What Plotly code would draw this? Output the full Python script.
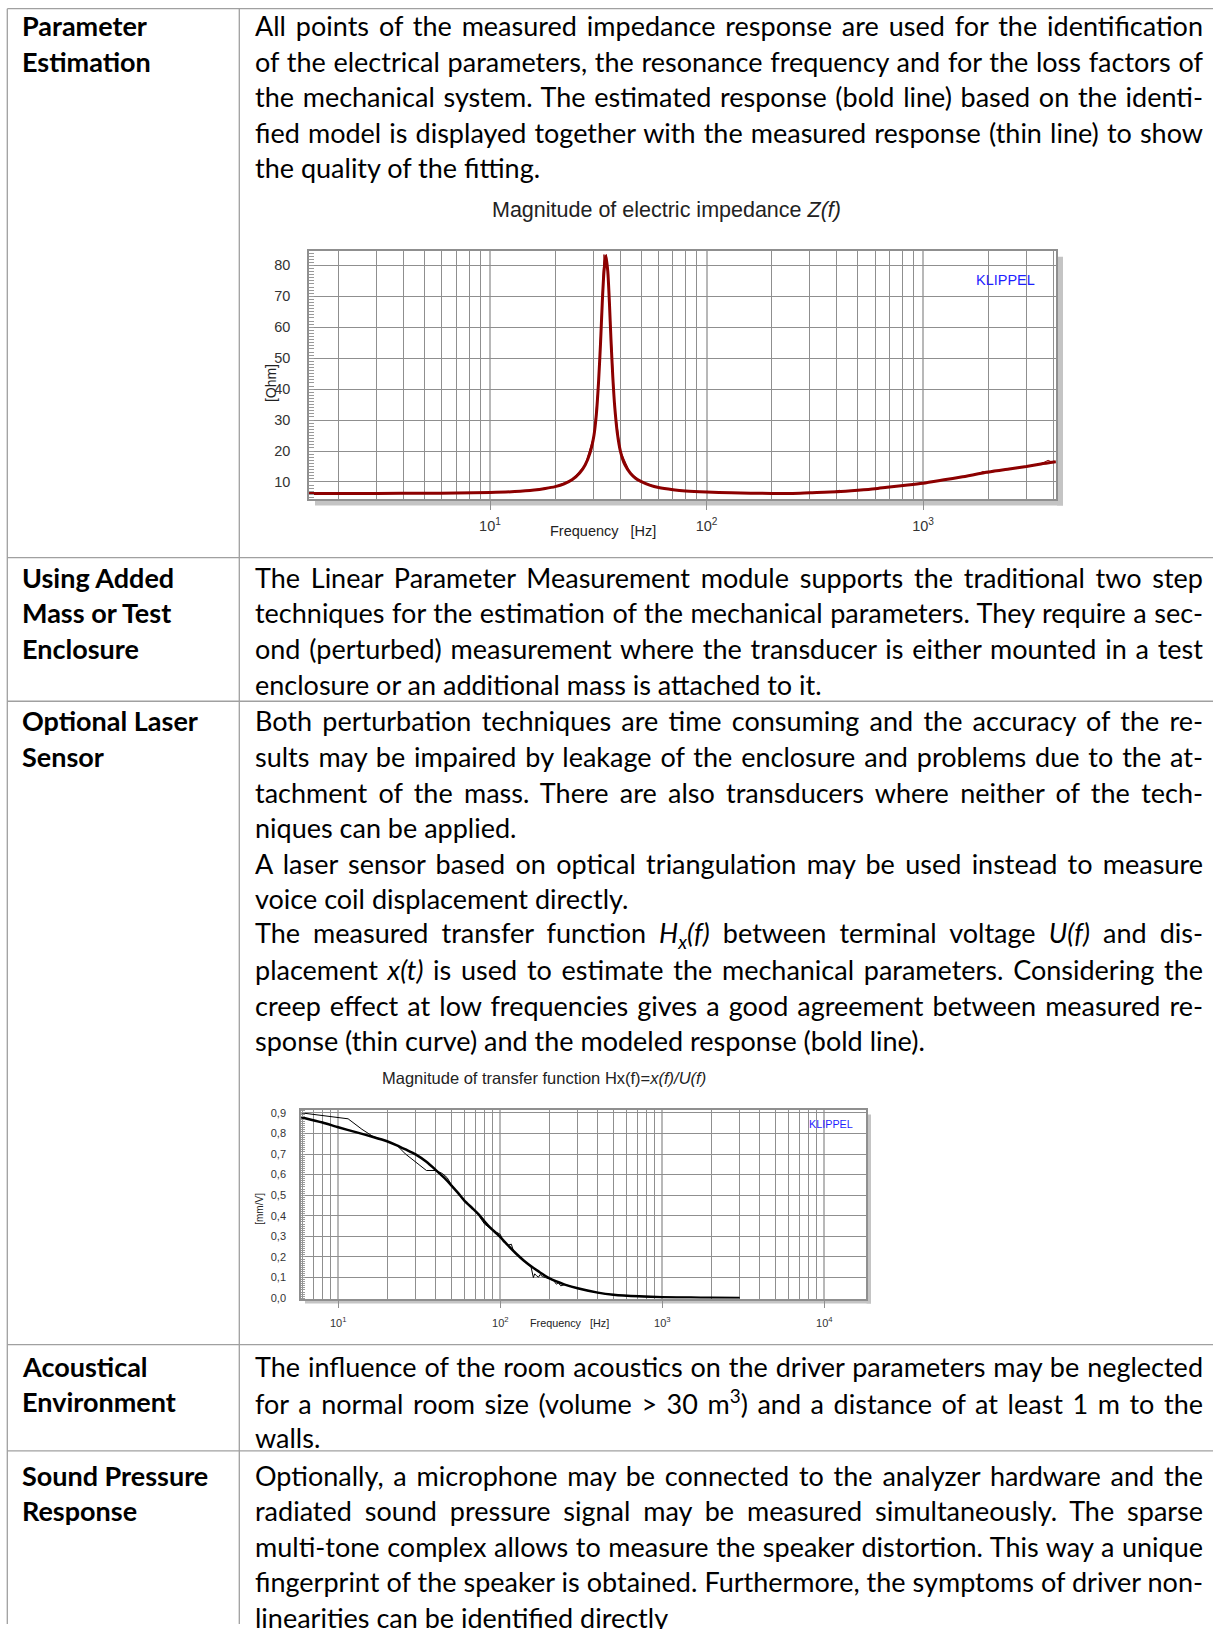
import json
import plotly.graph_objects as go

W, H = 1213, 1629

# ---------------- data: impedance chart ----------------
imp_freq = [1.46, 2, 3, 5, 7, 10, 13, 16, 18, 20, 22, 24, 26, 27.5, 29, 30.2, 31, 31.7, 32.4, 33, 33.6,
            34.3, 35, 35.6, 36.2, 36.9, 37.7, 38.7, 40, 42, 44.5, 47, 50, 55, 60, 70, 80, 100, 130, 160,
            200, 250, 300, 400, 500, 600, 700, 850, 1000, 1250, 1500, 2000, 2500, 3000, 3500, 4100]
imp_model = [6.3, 6.3, 6.3, 6.35, 6.45, 6.6, 6.9, 7.4, 7.9, 8.5, 9.4, 10.8, 13.0, 15.5, 19.5, 25, 32, 42, 55, 68, 78,
             83, 78, 68, 56, 44, 34, 26, 20, 15.5, 12.8, 11.2, 10.1, 8.9, 8.2, 7.5, 7.1, 6.75, 6.5, 6.35,
             6.3, 6.3, 6.5, 6.8, 7.3, 7.8, 8.4, 9.0, 9.6, 10.7, 11.6, 13.2, 14.2, 15.0, 15.8, 16.5]
imp_meas_freq = [1.46, 3, 6, 10, 15, 20, 24, 27.5, 30.2, 31.7, 33, 33.6, 34.0, 34.5, 35, 36.2, 37.7, 40, 44.5,
                 50, 60, 80, 120, 200, 300, 380, 410, 440, 600, 800, 1000, 1500, 1800, 1890, 1980, 2500,
                 3000, 3500, 3780, 3950, 4100]
imp_meas = [6.3, 6.3, 6.4, 6.6, 7.2, 8.5, 10.8, 15.5, 25, 42, 68, 83.5, 81, 83.5, 78, 56, 34, 20, 12.8,
            10.1, 8.2, 7.1, 6.55, 6.3, 6.5, 6.7, 7.3, 6.9, 7.8, 8.9, 9.6, 11.6, 12.6, 13.4, 12.9, 14.2,
            15.0, 15.8, 17.0, 16.4, 16.5]
imp_yticks = [10, 20, 30, 40, 50, 60, 70, 80]
imp_xticks = [10, 100, 1000]
imp_xticklabels = ["10<sup>1</sup>", "10<sup>2</sup>", "10<sup>3</sup>"]

# ---------------- data: transfer function chart ----------------
hx_freq = [5.9, 8, 10, 13, 16.4, 20, 23, 26, 30, 35, 40, 45, 50, 55, 60, 67, 74, 80, 86, 93, 100, 112, 125,
           140, 158, 180, 200, 250, 300, 400, 500, 720, 1000, 1500, 2000, 3000]
hx_model = [0.879, 0.853, 0.830, 0.805, 0.783, 0.762, 0.742, 0.722, 0.698, 0.662, 0.622, 0.585, 0.547, 0.510,
            0.474, 0.438, 0.405, 0.372, 0.345, 0.320, 0.297, 0.255, 0.217, 0.182, 0.150, 0.120, 0.097, 0.066,
            0.048, 0.027, 0.017, 0.009, 0.005, 0.003, 0.002, 0.001]
hx_meas_freq = [5.9, 11.5, 14, 16.4, 20, 23, 26, 30, 35, 40, 44, 47, 50, 60, 70, 80, 88, 95, 100, 104, 108,
                112, 117, 121, 125, 140, 155, 160, 163, 167, 172, 176, 182, 190, 200, 212, 222, 228, 236,
                250, 300, 400, 500, 700, 1000, 2000, 3000]
hx_meas = [0.900, 0.871, 0.820, 0.785, 0.762, 0.742, 0.700, 0.662, 0.620, 0.620, 0.605, 0.585, 0.550, 0.470,
           0.425, 0.360, 0.335, 0.320, 0.310, 0.275, 0.268, 0.258, 0.262, 0.225, 0.214, 0.180, 0.150, 0.100,
           0.118, 0.110, 0.102, 0.115, 0.105, 0.100, 0.096, 0.088, 0.068, 0.075, 0.060, 0.066, 0.048, 0.026,
           0.016, 0.008, 0.005, 0.002, 0.001]
hx_yticks = [0.0, 0.1, 0.2, 0.3, 0.4, 0.5, 0.6, 0.7, 0.8, 0.9]
hx_yticklabels = ["0,0", "0,1", "0,2", "0,3", "0,4", "0,5", "0,6", "0,7", "0,8", "0,9"]
hx_xticks = [10, 100, 1000, 10000]
hx_xticklabels = ["10<sup>1</sup>", "10<sup>2</sup>", "10<sup>3</sup>", "10<sup>4</sup>"]

# ---------------- table text ----------------
row_heads = [
    ["Parameter", "Estimation"],
    ["Using Added", "Mass or Test", "Enclosure"],
    ["Optional Laser", "Sensor"],
    ["Acoustical", "Environment"],
    ["Sound Pressure", "Response"],
]
row_body = [
    ["All points of the measured impedance response are used for the identification",
     "of the electrical parameters, the resonance frequency and for the loss factors of",
     "the mechanical system. The estimated response (bold line) based on the identi-",
     "fied model is displayed together with the measured response (thin line) to show",
     "the quality of the fitting."],
    ["The Linear Parameter Measurement module supports the traditional two step",
     "techniques for the estimation of the mechanical parameters. They require a sec-",
     "ond (perturbed) measurement where the transducer is either mounted in a test",
     "enclosure or an additional mass is attached to it."],
    ["Both perturbation techniques are time consuming and the accuracy of the re-",
     "sults may be impaired by leakage of the enclosure and problems due to the at-",
     "tachment of the mass. There are also transducers where neither of the tech-",
     "niques can be applied.",
     "A laser sensor based on optical triangulation may be used instead to measure",
     "voice coil displacement directly.",
     "The measured transfer function <i>H<sub>x</sub>(f)</i> between terminal voltage <i>U(f)</i> and dis-",
     "placement <i>x(t)</i> is used to estimate the mechanical parameters. Considering the",
     "creep effect at low frequencies gives a good agreement between measured re-",
     "sponse (thin curve) and the modeled response (bold line)."],
    ["The influence of the room acoustics on the driver parameters may be neglected",
     "for a normal room size (volume &gt; 30 m<sup>3</sup>) and a distance of at least 1 m to the",
     "walls."],
    ["Optionally, a microphone may be connected to the analyzer hardware and the",
     "radiated sound pressure signal may be measured simultaneously. The sparse",
     "multi-tone complex allows to measure the speaker distortion. This way a unique",
     "fingerprint of the speaker is obtained. Furthermore, the symptoms of driver non-",
     "linearities can be identified directly"],
]
# last line of each paragraph (left at natural width)
para_last = [[4], [3], [3, 5, 9], [2], [4]]
row_first_y = [23, 577.3, 721.5, 1370, 1479.5]
LINE = 35.7


def X(p):
    return p / W


def Y(p):
    return 1 - p / H


BODY_FONT = "Lato"
BODY_SIZE = 27
CHART_FONT = "Liberation Sans, Arial"

fig = go.Figure()

fig.add_trace(go.Scatter(x=imp_meas_freq, y=imp_meas, mode="lines", xaxis="x", yaxis="y",
                         line=dict(color="rgb(140,0,0)", width=1), showlegend=False, hoverinfo="skip"))
fig.add_trace(go.Scatter(x=imp_freq, y=imp_model, mode="lines", xaxis="x", yaxis="y",
                         line=dict(color="rgb(140,0,0)", width=3, shape="spline", smoothing=0.6),
                         showlegend=False, hoverinfo="skip"))
fig.add_trace(go.Scatter(x=hx_meas_freq, y=hx_meas, mode="lines", xaxis="x2", yaxis="y2",
                         line=dict(color="black", width=1), showlegend=False, hoverinfo="skip"))
fig.add_trace(go.Scatter(x=hx_freq, y=hx_model, mode="lines", xaxis="x2", yaxis="y2",
                         line=dict(color="black", width=2.5, shape="spline", smoothing=0.6),
                         showlegend=False, hoverinfo="skip"))


def minor_vals(lo, hi):
    out = []
    dec = 1
    while dec <= hi:
        for m in range(2, 10):
            v = m * dec
            if lo < v < hi:
                out.append(v)
        dec *= 10
    return out


GRID = "#8f8f8f"
MAJ = "#b8b8b8"
tickfont1 = dict(family=CHART_FONT, size=14.5, color="#333")
tickfont2 = dict(family=CHART_FONT, size=11, color="#333")

fig.update_layout(
    width=W, height=H, margin=dict(l=0, r=0, t=0, b=0),
    paper_bgcolor="white", plot_bgcolor="white",
    xaxis=dict(type="log", domain=[X(309), X(1056)], range=[0.164, 3.614], anchor="y",
               tickvals=imp_xticks, ticktext=imp_xticklabels, ticks="outside", ticklen=10,
               tickcolor="#8f8f8f", showgrid=True, gridcolor=MAJ, gridwidth=2,
               minor=dict(tickvals=minor_vals(1, 4100), showgrid=True, gridcolor=GRID, gridwidth=1, ticks=""),
               showline=True, mirror=True, linecolor="#8f8f8f", linewidth=1.5, zeroline=False,
               tickfont=tickfont1, ticklabelstandoff=3, fixedrange=True),
    yaxis=dict(domain=[Y(498), Y(249)], range=[4.64, 84.72], anchor="x",
               tickvals=imp_yticks, ticks="", showgrid=True, gridcolor=GRID, gridwidth=1,
               minor=dict(dtick=1, tick0=0, ticks="inside", ticklen=5, tickcolor="#999", showgrid=False),
               showline=True, mirror=True, linecolor="#8f8f8f", linewidth=1.5, zeroline=False,
               tickfont=tickfont1, ticklabelstandoff=14, fixedrange=True),
    xaxis2=dict(type="log", domain=[X(301), X(866)], range=[0.770, 4.257], anchor="y2",
                tickvals=hx_xticks, ticktext=hx_xticklabels, ticks="outside", ticklen=8,
                tickcolor="#8f8f8f", showgrid=True, gridcolor=MAJ, gridwidth=2,
                minor=dict(tickvals=minor_vals(5.9, 18000), showgrid=True, gridcolor=GRID, gridwidth=1, ticks=""),
                showline=True, mirror=True, linecolor="#8f8f8f", linewidth=1.5, zeroline=False,
                tickfont=tickfont2, ticklabelstandoff=5, fixedrange=True),
    yaxis2=dict(domain=[Y(1302), Y(1112)], range=[-0.002, 0.916], anchor="x2",
                tickvals=hx_yticks, ticktext=hx_yticklabels, ticks="", showgrid=True, gridcolor=GRID,
                gridwidth=1,
                minor=dict(dtick=0.01, tick0=0, ticks="inside", ticklen=4, tickcolor="#999", showgrid=False),
                showline=True, mirror=True, linecolor="#8f8f8f", linewidth=1.5, zeroline=False,
                tickfont=tickfont2, ticklabelstandoff=11, fixedrange=True),
)

shapes = []
BORDER = "#a0a0a0"


def hline(y, x0=7.3, x1=W):
    shapes.append(dict(type="line", xref="paper", yref="paper", x0=X(x0), x1=X(x1), y0=Y(y), y1=Y(y),
                       line=dict(color=BORDER, width=1.3), layer="above"))


def vline(x, y0=5.7, y1=H):
    shapes.append(dict(type="line", xref="paper", yref="paper", x0=X(x), x1=X(x), y0=Y(y0), y1=Y(y1),
                       line=dict(color=BORDER, width=1.3), layer="above"))


for yy in [5.7, 557.3, 701.7, 1348.3, 1455]:
    hline(yy)
vline(7.3)
vline(239.3)


def rect(x0, y0, x1, y1, color="#c4c4c4"):
    shapes.append(dict(type="rect", xref="paper", yref="paper", x0=X(x0), x1=X(x1), y0=Y(y1), y1=Y(y0),
                       line=dict(width=0), fillcolor=color, layer="below"))


# chart drop shadows
rect(1057, 255, 1063, 505)
rect(315, 499, 1063, 505)
rect(866.5, 1117, 871, 1307)
rect(305, 1302.5, 871, 1307)

annotations = []
justify = {}


def ann(text, x, y, size, family, color="black", xanchor="left", textangle=0):
    annotations.append(dict(text=text, x=X(x), y=Y(y), xref="paper", yref="paper", showarrow=False,
                            xanchor=xanchor, yanchor="middle", align="left" if xanchor == "left" else "center",
                            textangle=textangle, font=dict(size=size, family=family, color=color)))
    return len(annotations) - 1


for r in range(len(row_heads)):
    y0 = row_first_y[r]
    for i, t in enumerate(row_heads[r]):
        ann("<b>" + t + "</b>", 19.5, y0 + i * LINE, BODY_SIZE, BODY_FONT)
    for i, t in enumerate(row_body[r]):
        idx = ann(t, 253, y0 + i * LINE, BODY_SIZE, BODY_FONT)
        if i not in para_last[r]:
            justify[str(idx)] = 948

# chart 1 texts
ann("Magnitude of electric impedance <i>Z(f)</i>", 666, 208, 21.5, CHART_FONT, "#222", xanchor="center")
ann("Frequency   [Hz]", 603, 531, 14.5, CHART_FONT, "#222", xanchor="center")
ann("[Ohm]", 271, 382, 14, CHART_FONT, "#222", xanchor="center", textangle=-90)
ann("KLIPPEL", 1005, 278, 14.5, CHART_FONT, "#1f1fff", xanchor="center")
# chart 2 texts
ann("Magnitude of transfer function Hx(f)=<i>x(f)/U(f)</i>", 543.5, 1080, 16.5, CHART_FONT, "#222",
    xanchor="center")
ann("Frequency   [Hz]", 569, 1327, 10.8, CHART_FONT, "#222", xanchor="center")
ann("[mm/V]", 260, 1211.7, 10, CHART_FONT, "#222", xanchor="center", textangle=-90)
ann("KLIPPEL", 831, 1127, 10.8, CHART_FONT, "#1f1fff", xanchor="center")

fig.update_layout(shapes=shapes, annotations=annotations)

post = """
document.body.style.margin='0';
var gd=document.getElementById('{plot_id}');
var J=%s;
function justifyLines(){
  var gs=gd.querySelectorAll('g.annotation');
  for(var k=0;k<gs.length;k++){
    var g=gs[k]; var i=g.getAttribute('data-index');
    if(!(i in J)) continue;
    var t=g.querySelector('text.annotation-text'); if(!t) continue;
    t.style.wordSpacing='0px';
    var w=t.getComputedTextLength();
    var n=(t.textContent.match(/ /g)||[]).length;
    if(n>0){t.style.wordSpacing=((J[i]-w)/n)+'px';}
  }
}
justifyLines(); setTimeout(justifyLines,200);
""" % json.dumps(justify)

fig.write_html("out.html", post_script=post, config={"displayModeBar": False})
